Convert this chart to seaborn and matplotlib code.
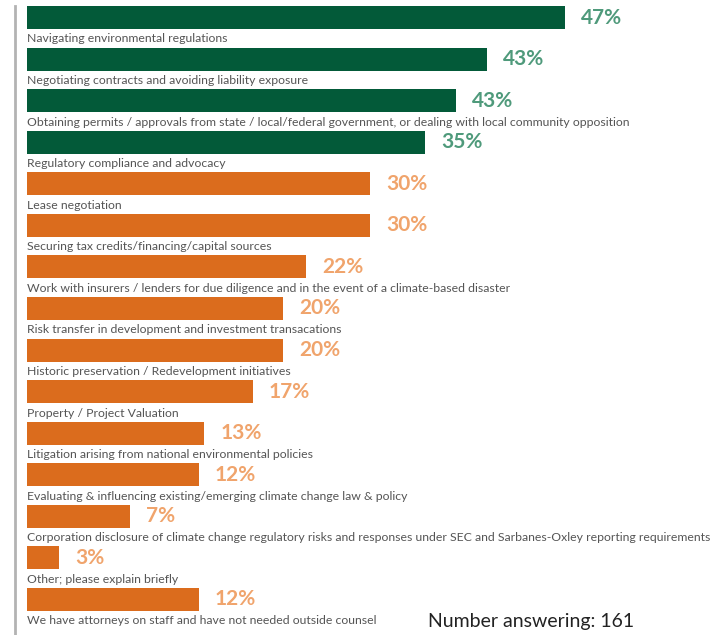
import matplotlib
matplotlib.use("Agg")
import matplotlib.pyplot as plt
import seaborn as sns
import pandas as pd

categories = [
    "Navigating environmental regulations",
    "Negotiating contracts and avoiding liability exposure",
    "Obtaining permits / approvals from state / local/federal government, or dealing with local community opposition",
    "Regulatory compliance and advocacy",
    "Lease negotiation",
    "Securing tax credits/financing/capital sources",
    "Work with insurers / lenders for due diligence and in the event of a climate-based disaster",
    "Risk transfer in development and investment transacations",
    "Historic preservation / Redevelopment initiatives",
    "Property / Project Valuation",
    "Litigation arising from national environmental policies",
    "Evaluating & influencing existing/emerging climate change law & policy",
    "Corporation disclosure of climate change regulatory risks and responses under SEC and Sarbanes-Oxley reporting requirements",
    "Other; please explain briefly",
    "We have attorneys on staff and have not needed outside counsel",
]
# bar lengths as drawn (in percent units)
bar_values = [47.0, 40.2, 37.5, 34.8, 30.0, 30.0, 24.4, 22.4, 22.4, 19.7, 15.5, 15.0, 9.0, 2.8, 15.0]
# printed percentage labels
pct_labels = ["47%", "43%", "43%", "35%", "30%", "30%", "22%", "20%", "20%", "17%",
              "13%", "12%", "7%", "3%", "12%"]
groups = ["top"] * 4 + ["rest"] * 11
footer = "Number answering: 161"

bar_colors = {"top": "#035A39", "rest": "#DB6C1D"}
label_colors = {"top": "#4F9A7B", "rest": "#F0A46C"}

df = pd.DataFrame({"category": categories, "value": bar_values, "group": groups})

W, H = 719, 635
fig = plt.figure(figsize=(W / 100, H / 100), dpi=100)
ax = fig.add_axes([0, 0, 1, 1])

scale = 11.45          # px per percent unit
x0 = 27                # px where bars start
pitch = 41.57          # px between bar centres
c0 = 17.5              # px centre of first bar

sns.barplot(data=df, x="value", y="category", hue="group", palette=bar_colors,
            order=categories, orient="h", dodge=False, width=23 / pitch,
            legend=False, ax=ax, saturation=1)

ax.set_xlim(-x0 / scale, (W - x0) / scale)
ax.set_ylim((H - c0) / pitch, -c0 / pitch)
ax.axis("off")

# left gray rule
ax.axvline((15 - x0) / scale, ymin=0, ymax=1 - 6 / H, color="#B3B3B3", lw=2)

txt_font = ["Lato", "DejaVu Sans"]
for i, (cat, v, lab, g) in enumerate(zip(categories, bar_values, pct_labels, groups)):
    ax.text(0, i + 25 / pitch, cat, ha="left", va="baseline", fontsize=8.8,
            color="#555555", family=txt_font)
    ax.text(v + 16 / scale, i, lab, ha="left", va="center", fontsize=15,
            fontweight="bold", color=label_colors[g], family=txt_font)

fig.text(428 / W, 1 - 621 / H, footer, ha="left", va="center", fontsize=14,
         color="#222222", family=txt_font)

fig.savefig("out.png", dpi=100)
